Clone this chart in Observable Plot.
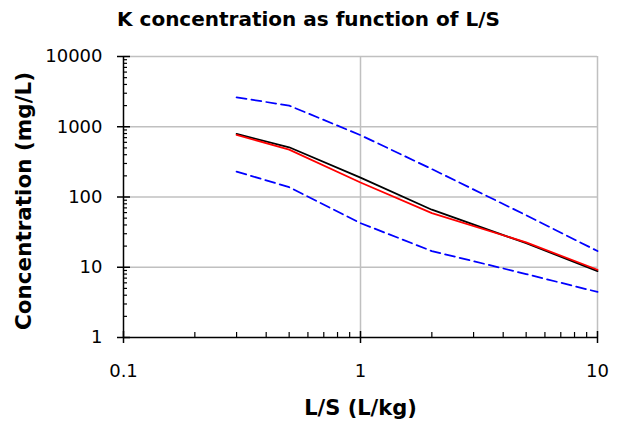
<!DOCTYPE html>
<html>
<head>
<meta charset="utf-8">
<script src="https://cdn.jsdelivr.net/npm/d3@7"></script>
<script src="https://cdn.jsdelivr.net/npm/@observablehq/plot@0.6"></script>
<style>
  body { margin: 0; background: #fff; }
  #chart { width: 620px; height: 428px; }
</style>
</head>
<body>
<div id="chart"></div>
<script>
const title = "K concentration as function of L/S";
const xLabel = "L/S (L/kg)";
const yLabel = "Concentration (mg/L)";

const ls = [0.3, 0.5, 1, 2, 5, 10];
const blackSeries = [790, 510, 189, 66, 22, 8.8];
const redSeries = [765, 473, 161, 59, 22.6, 9.2];
const upperSeries = [2620, 2000, 760, 250, 55, 17];
const lowerSeries = [230, 138, 42.5, 17, 8.0, 4.45];

const xMajor = [0.1, 1, 10];
const xMinor = [0.2, 0.3, 0.4, 0.5, 0.6, 0.7, 0.8, 0.9, 2, 3, 4, 5, 6, 7, 8, 9];
const yMajor = [1, 10, 100, 1000, 10000];
const yMinor = [];
for (const d of [1, 10, 100, 1000]) for (let k = 2; k <= 9; k++) yMinor.push(d * k);
const yGrid = [10, 100, 1000, 10000];
const xGrid = [1, 10];

const rows = (ys) => ls.map((x, i) => ({x, y: ys[i]}));

const plot = Plot.plot({
  width: 620,
  height: 428,
  marginLeft: 123,
  marginRight: 23,
  marginTop: 56,
  marginBottom: 91,
  style: {fontFamily: "'DejaVu Sans', Verdana, sans-serif", fontSize: "18px", color: "#000", background: "#fff", overflow: "visible"},
  x: {type: "log", domain: [0.1, 10]},
  y: {type: "log", domain: [1, 10000]},
  marks: [
    Plot.ruleY(yGrid, {stroke: "#c0c0c0", strokeWidth: 1.5}),
    Plot.ruleX(xGrid, {stroke: "#c0c0c0", strokeWidth: 1.5}),
    Plot.line(rows(upperSeries), {x: "x", y: "y", stroke: "#0000ff", strokeWidth: 1.75, strokeDasharray: "10,5"}),
    Plot.line(rows(lowerSeries), {x: "x", y: "y", stroke: "#0000ff", strokeWidth: 1.75, strokeDasharray: "10,5"}),
    Plot.line(rows(blackSeries), {x: "x", y: "y", stroke: "#000000", strokeWidth: 1.75}),
    Plot.line(rows(redSeries), {x: "x", y: "y", stroke: "#ff0000", strokeWidth: 1.75}),
    Plot.ruleX([0.1], {stroke: "#000", strokeWidth: 1.5}),
    Plot.ruleY([1], {stroke: "#000", strokeWidth: 1.5}),
    Plot.axisY(yMajor, {anchor: "left", tickSize: 6, tickPadding: 15, tickFormat: d => String(d), label: null, strokeWidth: 1.5, fontSize: 18, letterSpacing: "-1px"}),
    Plot.axisY(yMajor, {anchor: "left", tickSize: 7, dx: 7, tickFormat: () => "", label: null, strokeWidth: 1.5}),
    Plot.axisY(yMinor, {anchor: "left", tickSize: 4, dx: 4, tickFormat: () => "", label: null, strokeWidth: 1.2}),
    Plot.axisX(xMajor, {anchor: "bottom", tickSize: 6, tickPadding: 21, tickFormat: d => String(d), label: null, strokeWidth: 1.5, fontSize: 18, letterSpacing: "-1px"}),
    Plot.axisX(xMajor, {anchor: "bottom", tickSize: 6, dy: -6, tickFormat: () => "", label: null, strokeWidth: 1.5}),
    Plot.axisX(xMinor, {anchor: "bottom", tickSize: 5, dy: -5, tickFormat: () => "", label: null, strokeWidth: 1.2}),
    Plot.text([title], {frameAnchor: "top", dx: -52, dy: -37, fontWeight: "bold", fontSize: 20, letterSpacing: "-0.35px", lineAnchor: "middle", textAnchor: "middle"}),
    Plot.text([xLabel], {frameAnchor: "bottom", dy: 71, fontWeight: "bold", fontSize: 21, lineAnchor: "middle", textAnchor: "middle"}),
    Plot.text([yLabel], {frameAnchor: "left", dx: -99, dy: 4, rotate: -90, fontWeight: "bold", fontSize: 21.5, lineAnchor: "middle", textAnchor: "middle"})
  ]
});
document.getElementById("chart").appendChild(plot);
</script>
</body>
</html>
